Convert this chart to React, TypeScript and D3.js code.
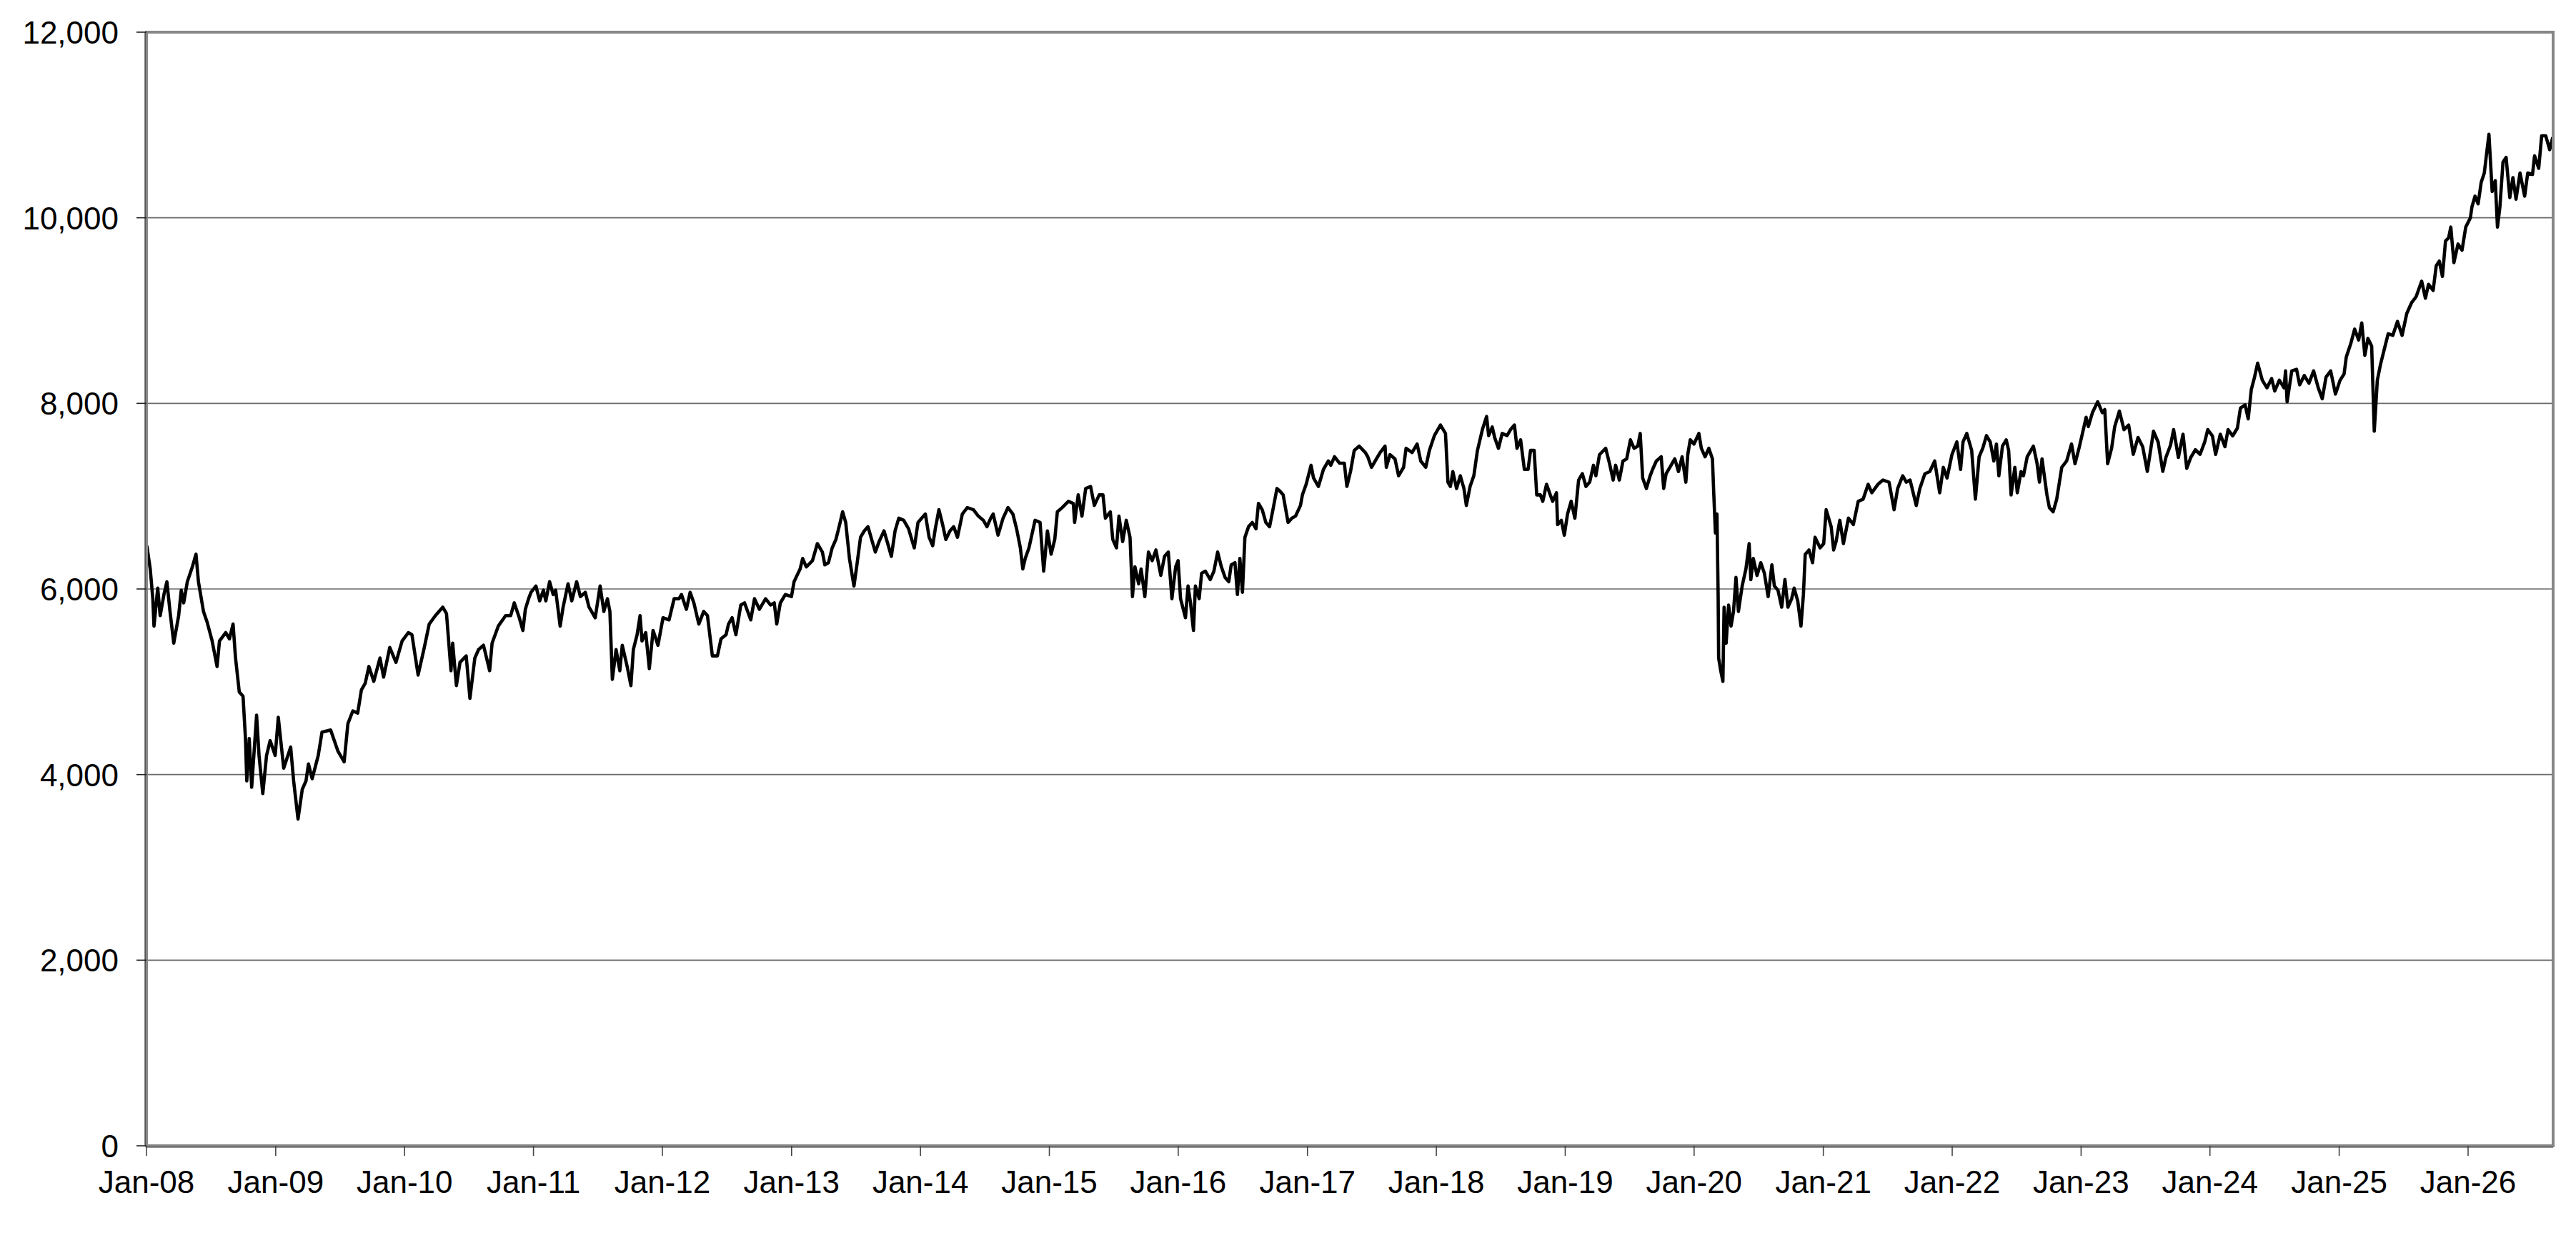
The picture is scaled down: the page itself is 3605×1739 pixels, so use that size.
import { extent, format, line, scaleLinear, scaleTime, timeFormat, timeYear } from "d3";

// decimal year, index level
const LEVELS_2008_2010: [number, number][] = [
  [2008.003, 6466], [2008.029, 6215], [2008.049, 5895], [2008.058, 5600], [2008.087, 6010],
  [2008.106, 5713], [2008.135, 5940], [2008.158, 6078], [2008.182, 5758], [2008.211, 5416],
  [2008.249, 5713], [2008.269, 5986], [2008.288, 5850], [2008.316, 6078], [2008.355, 6238],
  [2008.383, 6375], [2008.402, 6078], [2008.441, 5758], [2008.469, 5644], [2008.508, 5440],
  [2008.546, 5165], [2008.565, 5440], [2008.613, 5530], [2008.642, 5462], [2008.670, 5622],
  [2008.689, 5256], [2008.718, 4890], [2008.747, 4845], [2008.766, 4388], [2008.776, 3932],
  [2008.795, 4388], [2008.814, 3863], [2008.852, 4640], [2008.871, 4206], [2008.900, 3795],
  [2008.929, 4206], [2008.957, 4366], [2008.996, 4206], [2009.020, 4617], [2009.062, 4069],
  [2009.116, 4297], [2009.139, 3932], [2009.173, 3521], [2009.206, 3840], [2009.235, 3932],
  [2009.254, 4115], [2009.283, 3955], [2009.330, 4206], [2009.359, 4457], [2009.426, 4480],
  [2009.483, 4252], [2009.531, 4137], [2009.560, 4548], [2009.598, 4685], [2009.636, 4662],
  [2009.665, 4913], [2009.694, 4982], [2009.723, 5165], [2009.761, 5005], [2009.809, 5256],
  [2009.837, 5051], [2009.885, 5370], [2009.933, 5210], [2009.981, 5440], [2010.029, 5530],
  [2010.057, 5507], [2010.105, 5073], [2010.153, 5370], [2010.191, 5622], [2010.239, 5713],
  [2010.296, 5804], [2010.325, 5735], [2010.360, 5119], [2010.373, 5416], [2010.402, 4959],
  [2010.430, 5210], [2010.478, 5279], [2010.507, 4822], [2010.545, 5256], [2010.574, 5347],
  [2010.612, 5393], [2010.660, 5119], [2010.679, 5416], [2010.727, 5600], [2010.784, 5713],
  [2010.823, 5713], [2010.851, 5850], [2010.890, 5690], [2010.918, 5553], [2010.937, 5781],
];

const LEVELS_2011_2013: [number, number][] = [
  [2010.962, 5895], [2010.981, 5964], [2011.019, 6032], [2011.048, 5872], [2011.077, 5987],
  [2011.096, 5872], [2011.125, 6078], [2011.153, 5940], [2011.172, 5987], [2011.207, 5600],
  [2011.230, 5804], [2011.268, 6055], [2011.297, 5872], [2011.335, 6078], [2011.364, 5918],
  [2011.402, 5964], [2011.431, 5804], [2011.479, 5690], [2011.517, 6032], [2011.546, 5758],
  [2011.574, 5895], [2011.593, 5758], [2011.612, 5027], [2011.641, 5347], [2011.670, 5119],
  [2011.689, 5393], [2011.727, 5165], [2011.756, 4959], [2011.775, 5347], [2011.804, 5507],
  [2011.827, 5713], [2011.842, 5440], [2011.871, 5530], [2011.899, 5142], [2011.928, 5553],
  [2011.966, 5393], [2012.005, 5690], [2012.052, 5667], [2012.091, 5895], [2012.129, 5895],
  [2012.148, 5940], [2012.186, 5781], [2012.215, 5964], [2012.244, 5850], [2012.282, 5622],
  [2012.320, 5758], [2012.349, 5713], [2012.387, 5279], [2012.426, 5279], [2012.454, 5462],
  [2012.493, 5507], [2012.512, 5622], [2012.540, 5690], [2012.569, 5507], [2012.607, 5827],
  [2012.636, 5850], [2012.684, 5667], [2012.713, 5895], [2012.751, 5781], [2012.799, 5895],
  [2012.837, 5827], [2012.866, 5850], [2012.885, 5622], [2012.913, 5850], [2012.952, 5940],
  [2012.999, 5918], [2013.019, 6078], [2013.066, 6215], [2013.086, 6329], [2013.114, 6238],
  [2013.162, 6306], [2013.200, 6489], [2013.239, 6398], [2013.258, 6260], [2013.286, 6283],
  [2013.315, 6443], [2013.344, 6534], [2013.373, 6694], [2013.396, 6831], [2013.420, 6717],
  [2013.449, 6329], [2013.484, 6032], [2013.507, 6260], [2013.535, 6557], [2013.564, 6626],
  [2013.593, 6671], [2013.621, 6534], [2013.650, 6398], [2013.679, 6511], [2013.717, 6626],
  [2013.746, 6489], [2013.774, 6352], [2013.803, 6626], [2013.832, 6763], [2013.870, 6740],
  [2013.908, 6648], [2013.937, 6511],
];

const LEVELS_2014_2016: [number, number][] = [
  [2013.952, 6443], [2013.981, 6717], [2014.009, 6763], [2014.038, 6808], [2014.067, 6557],
  [2014.095, 6466], [2014.115, 6648], [2014.143, 6854], [2014.172, 6694], [2014.197, 6534],
  [2014.229, 6626], [2014.258, 6671], [2014.287, 6557], [2014.325, 6808], [2014.363, 6877],
  [2014.411, 6854], [2014.449, 6785], [2014.488, 6740], [2014.516, 6671], [2014.545, 6763],
  [2014.564, 6808], [2014.602, 6580], [2014.641, 6763], [2014.679, 6877], [2014.717, 6808],
  [2014.746, 6648], [2014.775, 6443], [2014.794, 6215], [2014.813, 6329], [2014.842, 6443],
  [2014.889, 6740], [2014.928, 6717], [2014.956, 6192], [2014.985, 6626], [2015.014, 6375],
  [2015.042, 6534], [2015.062, 6831], [2015.100, 6877], [2015.148, 6945], [2015.186, 6922],
  [2015.196, 6717], [2015.224, 7014], [2015.253, 6785], [2015.282, 7083], [2015.320, 7105],
  [2015.349, 6900], [2015.387, 7014], [2015.416, 7014], [2015.435, 6763], [2015.473, 6831],
  [2015.492, 6534], [2015.521, 6443], [2015.540, 6785], [2015.569, 6511], [2015.597, 6740],
  [2015.626, 6557], [2015.645, 5918], [2015.664, 6238], [2015.693, 6055], [2015.712, 6215],
  [2015.741, 5918], [2015.769, 6398], [2015.798, 6306], [2015.827, 6420], [2015.865, 6147],
  [2015.894, 6352], [2015.923, 6398], [2015.951, 5895], [2015.980, 6238], [2015.999, 6306],
  [2016.018, 5895], [2016.056, 5690], [2016.076, 6032], [2016.095, 5850], [2016.118, 5553],
  [2016.133, 6032], [2016.162, 5895], [2016.181, 6169], [2016.210, 6192], [2016.248, 6101],
  [2016.276, 6192], [2016.305, 6398], [2016.334, 6238], [2016.363, 6124], [2016.391, 6078],
  [2016.410, 6260], [2016.439, 6283], [2016.458, 5940], [2016.477, 6329], [2016.497, 5964],
  [2016.516, 6557], [2016.544, 6671], [2016.573, 6717], [2016.602, 6648], [2016.621, 6922],
  [2016.650, 6854], [2016.678, 6717], [2016.707, 6671], [2016.736, 6877], [2016.764, 7083],
  [2016.783, 7060], [2016.812, 7014], [2016.850, 6717], [2016.879, 6763], [2016.908, 6785],
  [2016.946, 6900],
];

const LEVELS_2017_2019: [number, number][] = [
  [2016.961, 7014], [2016.990, 7128], [2017.028, 7333], [2017.047, 7196], [2017.085, 7105],
  [2017.124, 7288], [2017.162, 7379], [2017.181, 7333], [2017.210, 7425], [2017.248, 7356],
  [2017.286, 7356], [2017.306, 7105], [2017.334, 7265], [2017.363, 7493], [2017.401, 7539],
  [2017.449, 7470], [2017.468, 7425], [2017.497, 7311], [2017.535, 7402], [2017.564, 7470],
  [2017.602, 7539], [2017.612, 7311], [2017.640, 7448], [2017.679, 7402], [2017.707, 7220],
  [2017.746, 7311], [2017.765, 7516], [2017.812, 7470], [2017.851, 7562], [2017.879, 7379],
  [2017.918, 7311], [2017.946, 7493], [2017.985, 7653], [2018.032, 7767], [2018.071, 7676],
  [2018.090, 7151], [2018.109, 7105], [2018.128, 7265], [2018.157, 7083], [2018.186, 7220],
  [2018.214, 7083], [2018.233, 6900], [2018.262, 7105], [2018.291, 7220], [2018.319, 7493],
  [2018.358, 7722], [2018.390, 7859], [2018.406, 7653], [2018.434, 7745], [2018.453, 7630],
  [2018.482, 7516], [2018.511, 7676], [2018.549, 7653], [2018.578, 7722], [2018.606, 7767],
  [2018.626, 7516], [2018.654, 7607], [2018.683, 7288], [2018.712, 7288], [2018.731, 7493],
  [2018.759, 7493], [2018.779, 7014], [2018.807, 7014], [2018.826, 6945], [2018.855, 7128],
  [2018.884, 7014], [2018.903, 6945], [2018.932, 7037], [2018.941, 6694], [2018.970, 6740],
  [2018.993, 6580], [2019.018, 6808], [2019.046, 6945], [2019.075, 6763], [2019.104, 7174],
  [2019.133, 7242], [2019.161, 7105], [2019.190, 7151], [2019.219, 7333], [2019.238, 7220],
  [2019.266, 7448], [2019.314, 7516], [2019.343, 7356], [2019.372, 7174], [2019.391, 7333],
  [2019.420, 7174], [2019.448, 7379], [2019.477, 7402], [2019.506, 7607], [2019.534, 7516],
  [2019.563, 7539], [2019.582, 7676], [2019.601, 7196], [2019.630, 7083], [2019.659, 7220],
  [2019.678, 7288], [2019.707, 7379], [2019.745, 7425], [2019.764, 7083], [2019.783, 7242],
  [2019.812, 7311], [2019.850, 7402], [2019.879, 7265], [2019.907, 7425], [2019.936, 7151],
];

const LEVELS_2020_2022: [number, number][] = [
  [2019.951, 7448], [2019.970, 7607], [2019.999, 7562], [2020.037, 7676], [2020.056, 7516],
  [2020.085, 7425], [2020.114, 7516], [2020.142, 7402], [2020.152, 7037], [2020.165, 6603],
  [2020.177, 6808], [2020.186, 5941], [2020.190, 5256], [2020.206, 5119], [2020.223, 5005],
  [2020.232, 5804], [2020.248, 5416], [2020.267, 5827], [2020.286, 5600], [2020.305, 5758],
  [2020.324, 6124], [2020.343, 5758], [2020.372, 6032], [2020.401, 6215], [2020.426, 6489],
  [2020.439, 6101], [2020.458, 6329], [2020.487, 6146], [2020.516, 6283], [2020.544, 6169],
  [2020.573, 5918], [2020.602, 6260], [2020.621, 6032], [2020.649, 5986], [2020.678, 5804],
  [2020.703, 6101], [2020.726, 5804], [2020.755, 5895], [2020.774, 6009], [2020.802, 5872],
  [2020.827, 5600], [2020.846, 5941], [2020.860, 6374], [2020.889, 6420], [2020.917, 6283],
  [2020.936, 6557], [2020.975, 6443], [2021.003, 6489], [2021.022, 6854], [2021.061, 6671],
  [2021.080, 6420], [2021.099, 6511], [2021.128, 6740], [2021.156, 6489], [2021.195, 6763],
  [2021.233, 6694], [2021.271, 6945], [2021.309, 6968], [2021.348, 7128], [2021.376, 7037],
  [2021.424, 7128], [2021.463, 7174], [2021.510, 7151], [2021.549, 6854], [2021.577, 7083],
  [2021.616, 7220], [2021.644, 7151], [2021.673, 7174], [2021.721, 6900], [2021.749, 7083],
  [2021.788, 7242], [2021.826, 7265], [2021.864, 7379], [2021.903, 7037], [2021.931, 7311],
  [2021.960, 7196], [2021.998, 7448], [2022.036, 7585], [2022.065, 7288], [2022.084, 7585],
  [2022.113, 7676], [2022.151, 7493], [2022.180, 6968], [2022.209, 7425], [2022.237, 7516],
  [2022.266, 7653], [2022.295, 7585], [2022.323, 7379], [2022.343, 7562], [2022.362, 7220],
  [2022.390, 7539], [2022.419, 7607], [2022.438, 7493], [2022.457, 7014], [2022.486, 7311],
  [2022.505, 7037], [2022.534, 7265], [2022.553, 7220], [2022.582, 7425], [2022.630, 7539],
  [2022.658, 7356], [2022.677, 7151], [2022.697, 7402], [2022.735, 7014], [2022.754, 6877],
  [2022.783, 6831], [2022.811, 6968], [2022.850, 7311], [2022.888, 7379], [2022.926, 7562],
];

const LEVELS_2023_2026: [number, number][] = [
  [2022.953, 7350], [2022.984, 7517], [2023.020, 7733], [2023.039, 7850], [2023.056, 7750],
  [2023.088, 7900], [2023.129, 8017], [2023.165, 7900], [2023.184, 7933], [2023.206, 7350],
  [2023.237, 7517], [2023.261, 7750], [2023.297, 7917], [2023.333, 7717], [2023.369, 7767],
  [2023.405, 7450], [2023.442, 7633], [2023.478, 7533], [2023.514, 7267], [2023.538, 7483],
  [2023.562, 7700], [2023.598, 7583], [2023.634, 7267], [2023.658, 7417], [2023.694, 7550],
  [2023.718, 7717], [2023.755, 7417], [2023.791, 7667], [2023.820, 7300], [2023.851, 7417],
  [2023.887, 7500], [2023.923, 7450], [2023.959, 7583], [2023.983, 7717], [2024.019, 7650],
  [2024.044, 7450], [2024.080, 7667], [2024.116, 7533], [2024.140, 7717], [2024.176, 7650],
  [2024.212, 7733], [2024.236, 7950], [2024.272, 7983], [2024.296, 7833], [2024.320, 8150],
  [2024.345, 8283], [2024.369, 8433], [2024.405, 8250], [2024.441, 8167], [2024.477, 8267],
  [2024.501, 8133], [2024.537, 8250], [2024.573, 8167], [2024.585, 8350], [2024.597, 8017],
  [2024.633, 8350], [2024.670, 8367], [2024.694, 8200], [2024.730, 8300], [2024.766, 8217],
  [2024.802, 8350], [2024.838, 8167], [2024.869, 8050], [2024.898, 8283], [2024.934, 8350],
  [2024.971, 8100], [2025.007, 8250], [2025.038, 8317], [2025.055, 8500], [2025.091, 8650],
  [2025.120, 8800], [2025.151, 8683], [2025.175, 8867], [2025.199, 8517], [2025.223, 8700],
  [2025.252, 8617], [2025.272, 7700], [2025.296, 8250], [2025.320, 8417], [2025.344, 8550],
  [2025.380, 8750], [2025.416, 8733], [2025.452, 8883], [2025.488, 8733], [2025.524, 8967],
  [2025.561, 9083], [2025.597, 9150], [2025.640, 9317], [2025.669, 9133], [2025.693, 9283],
  [2025.729, 9217], [2025.753, 9483], [2025.777, 9533], [2025.801, 9367], [2025.825, 9750],
  [2025.849, 9783], [2025.866, 9900], [2025.890, 9517], [2025.922, 9717], [2025.953, 9650],
  [2025.982, 9900], [2026.018, 10000], [2026.030, 10117], [2026.054, 10233], [2026.078, 10150],
  [2026.102, 10383], [2026.126, 10483], [2026.143, 10683], [2026.162, 10900], [2026.187, 10283],
  [2026.211, 10400], [2026.228, 9900], [2026.247, 10117], [2026.271, 10600], [2026.295, 10650],
  [2026.324, 10217], [2026.348, 10433], [2026.372, 10200], [2026.403, 10483], [2026.439, 10233],
  [2026.463, 10483], [2026.500, 10467], [2026.516, 10667], [2026.548, 10533], [2026.571, 10883],
  [2026.603, 10883], [2026.633, 10733], [2026.657, 10867],
];

const Y_TICKS = [0, 2000, 4000, 6000, 8000, 10000, 12000];
const X_START = 2008;
const X_END = 2026.66;

const toDate = (y: number) => {
  const start = new Date(Math.floor(y), 0, 1);
  const end = new Date(Math.floor(y) + 1, 0, 1);
  return new Date(+start + (y - Math.floor(y)) * (+end - +start));
};

const points = [
  ...LEVELS_2008_2010,
  ...LEVELS_2011_2013,
  ...LEVELS_2014_2016,
  ...LEVELS_2017_2019,
  ...LEVELS_2020_2022,
  ...LEVELS_2023_2026,
].map(([y, v]) => ({ date: toDate(y), value: v }));

const WIDTH = 3605;
const HEIGHT = 1739;
const margin = { top: 45, right: 32, bottom: 136, left: 205 };
const FONT = "'Liberation Sans', Arial, sans-serif";

export default function App() {
  const x = scaleTime()
    .domain([toDate(X_START), toDate(X_END)])
    .range([margin.left, WIDTH - margin.right]);
  const y = scaleLinear()
    .domain(extent(Y_TICKS) as [number, number])
    .range([HEIGHT - margin.bottom, margin.top]);

  const path = line<{ date: Date; value: number }>()
    .x((d) => x(d.date))
    .y((d) => y(d.value));

  const years = timeYear.range(toDate(X_START), toDate(X_END));
  const fmtX = timeFormat("%b-%y");
  const fmtY = format(",");
  const [x0, x1] = x.range();
  const [y0, y1] = y.range();

  return (
    <svg
      width={WIDTH}
      height={HEIGHT}
      style={{ position: "absolute", left: 0, top: 0, background: "#fff" }}
      fontFamily={FONT}
    >
      {/* gridlines */}
      {Y_TICKS.filter((t) => t > 0 && t < 12000).map((t) => (
        <line key={t} x1={x0} x2={x1} y1={y(t)} y2={y(t)} stroke="#6a6a6a" strokeWidth={1.6} />
      ))}

      <path
        d={path(points) ?? ""}
        fill="none"
        stroke="#000"
        strokeWidth={4.6}
        strokeLinejoin="round"
      />

      {/* plot frame */}
      <rect x={x0} y={y1} width={x1 - x0} height={y0 - y1} fill="none" stroke="#878787" strokeWidth={4} />
      <line x1={x0 - 2} x2={x0 - 2} y1={y1} y2={y0} stroke="#333" strokeWidth={1.2} />
      <line x1={x0} x2={x1} y1={y0 + 2} y2={y0 + 2} stroke="#333" strokeWidth={1.2} />

      {/* y axis */}
      {Y_TICKS.map((t) => (
        <g key={t}>
          <line x1={x0 - 14} x2={x0} y1={y(t)} y2={y(t)} stroke="#222" strokeWidth={1.6} />
          <text x={166} y={y(t)} dy="0.36em" textAnchor="end" fontSize={44} fill="#000">
            {fmtY(t)}
          </text>
        </g>
      ))}

      {/* x axis */}
      {years.map((d) => (
        <g key={+d}>
          <line x1={x(d)} x2={x(d)} y1={y0} y2={y0 + 14} stroke="#444" strokeWidth={1.6} />
          <text x={x(d)} y={1669} textAnchor="middle" fontSize={44} fill="#000">
            {fmtX(d)}
          </text>
        </g>
      ))}
    </svg>
  );
}
